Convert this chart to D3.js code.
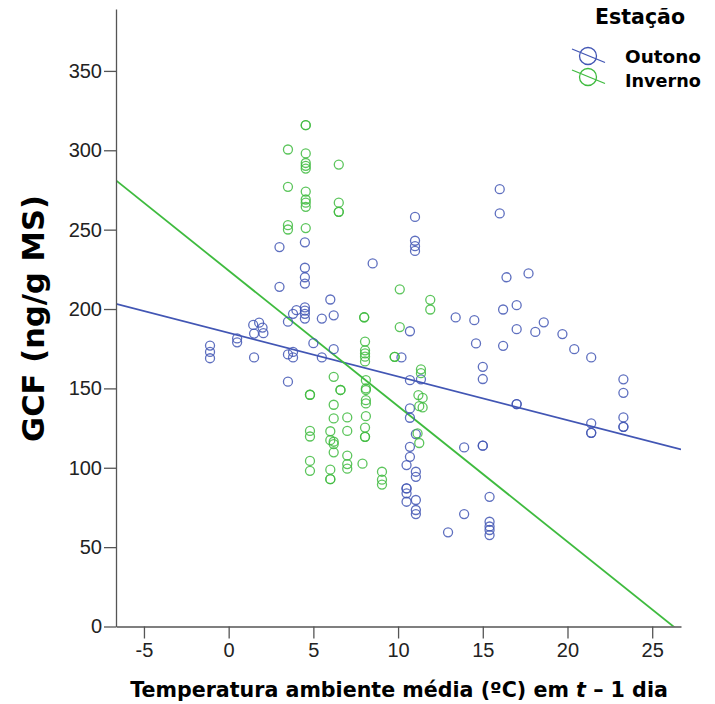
<!DOCTYPE html>
<html>
<head>
<meta charset="utf-8">
<script src="https://cdn.jsdelivr.net/npm/d3@7"></script>
<style>
  body { margin: 0; background: #fff; }
  svg { display: block; }
  .axis path, .axis line { stroke: #555; stroke-width: 1.3; }
  .axis text { font-family: "Liberation Sans", Arial, sans-serif; font-size: 20px; fill: #222; }
  .title { font-family: "DejaVu Sans", sans-serif; font-weight: bold; fill: #000; }
</style>
</head>
<body>
<div id="chart"></div>
<script>
// Estação: Outono (blue), Inverno (green) -- [temperature, GCF]
const seasons = ["Outono", "Inverno"]
const seasonColors = ["#4256b4", "#3fbb3f"]

const outono = [
  [-1.1,177],[-1.1,173],[-1.1,169],[0.5,181.5],[0.5,179],[1.5,169.5],
  [1.45,190],[1.8,191.4],[2.0,188.3],[2.05,184.8],[1.5,184.5],
  [3.0,239],[3.0,214],[3.5,192],[3.8,197],[4.0,199.3],
  [4.5,242],[4.5,226],[4.5,220],[4.5,216],[4.5,201],[4.5,199],[4.5,197],[4.5,194],
  [6.0,206],[6.2,196],[5.5,194],[5.0,178.5],[6.2,174.7],
  [3.5,171.4],[3.8,173],[3.8,169.5],[5.5,169.5],[3.5,154.2],
  [11.0,258],[11.0,243],[11.0,239.6],[11.0,236.6],[8.5,228.7],[13.4,194.7],[10.7,186],
  [16.0,275.5],[16.0,260.2],[16.4,220],[17.7,222.4],[16.2,199.7],[17.0,202.4],[14.5,193],
  [17.0,187.3],[18.1,185.6],[18.6,191.6],[19.7,184.2],
  [14.6,178.3],[16.2,176.8],[20.4,174.7],[21.4,169.5],[15.0,163.6],[15.0,155.9],
  [23.3,155.7],[23.3,147.2],[17.0,140.1],[17.0,140.1],[21.4,128],[21.4,122],[21.4,122],
  [23.3,131.7],[23.3,125.8],[23.3,125.8],
  [13.9,112.8],[15.0,113.9],[15.0,113.9],[15.4,81.7],[13.9,70.8],[15.4,66],[15.4,63],
  [15.4,60.8],[15.4,57.6],
  [10.2,169.5],[10.7,155.2],[11.35,155.7],[10.7,137.4],[10.7,131.5],[11.05,121.2],
  [10.7,113.2],[10.7,106.9],[10.5,101.7],[11.05,97.5],[11.05,94.3],[10.5,87],[10.5,87],
  [10.5,83.9],[10.5,78.6],[11.05,79.7],[11.05,73.4],[11.05,70.8],[12.95,59.3]
]

const inverno = [
  [4.55,315.8],[4.55,315.8],[3.5,300.5],[4.55,298],[4.55,292],[4.55,290.2],[4.55,288.5],[6.5,291],
  [3.5,277],[4.55,274],[4.55,269],[4.55,267],[4.55,264.4],[6.5,267],[6.5,261.2],[6.5,261.2],
  [3.5,252.8],[3.5,250.1],[4.55,251],
  [10.1,212.4],[11.9,205.8],[11.9,199.7],[8.0,194.8],[8.0,194.8],[10.1,188.6],
  [8.05,179.5],[8.05,174],[8.05,172],[8.05,170],[8.05,167],[9.8,169.9],[9.8,169.9],
  [11.35,162],[11.35,159.6],[8.1,155.2],[8.1,150],[8.1,149],[6.6,149],[6.6,149],
  [8.1,142.6],[8.1,140.5],
  [11.2,145.8],[11.45,144],[11.25,138.8],[11.45,138],
  [4.8,146],[4.8,146],[6.2,157.3],[6.2,139.7],[6.2,131.1],
  [7.0,131.7],[8.1,132.5],[7.0,123.2],[8.05,125.3],[8.05,119.5],[8.05,119.5],
  [11.15,121.6],[11.25,115.6],
  [4.8,123.2],[4.8,119.7],[6.0,123],[6.0,117.4],[6.2,116.4],[6.2,114.9],[6.2,109.7],
  [4.8,104.3],[4.8,98.1],[6.0,98.8],[6.0,92.8],[6.0,92.8],
  [7.0,107.7],[7.0,102.3],[7.0,99.4],[7.9,102.6],
  [9.05,97.5],[9.05,92.5],[9.05,89.4]
]

// linear fit per season: [intercept, slope]
const fitOutono = [185.0, -2.75]
const fitInverno = [224.2, -8.54]

const xTicks = [-5, 0, 5, 10, 15, 20, 25]
const yTicks = [0, 50, 100, 150, 200, 250, 300, 350]

const width = 715, height = 704
const svg = d3.select('#chart').append('svg')
  .attr('width', width).attr('height', height)

const x = d3.scaleLinear().domain([-6.65, 26.7]).range([116, 681])
const y = d3.scaleLinear().domain([0, 389]).range([626.5, 9])

// shrink/grow a text's font size so it spans the given width
function fitWidth(sel, target) {
  const size = parseFloat(sel.style('font-size'))
  const w = sel.node().getComputedTextLength()
  sel.style('font-size', (size * target / w) + 'px')
}

// fit lines, clipped to the plot area
svg.append('clipPath').attr('id', 'plot-clip')
  .append('rect').attr('x', 116).attr('y', 9).attr('width', 565).attr('height', 617.5)

const fits = [fitOutono, fitInverno]
fits.forEach((f, i) => {
  const xs = x.domain()
  svg.append('line')
    .attr('clip-path', 'url(#plot-clip)')
    .attr('x1', x(xs[0])).attr('y1', y(f[0] + f[1] * xs[0]))
    .attr('x2', x(xs[1])).attr('y2', y(f[0] + f[1] * xs[1]))
    .attr('stroke', seasonColors[i])
    .attr('stroke-width', 1.8)
})

// points
;[outono, inverno].forEach((pts, i) => {
  svg.append('g').selectAll('circle')
    .data(pts)
    .enter()
      .append('circle')
      .attr('cx', d => x(d[0]))
      .attr('cy', d => y(d[1]))
      .attr('r', 4.5)
      .attr('fill', 'none')
      .attr('stroke', seasonColors[i])
      .attr('stroke-width', 1.3)
      .attr('stroke-opacity', 0.85)
})

// axes
const xAxis = d3.axisBottom(x).tickValues(xTicks).tickSize(12).tickSizeOuter(0).tickPadding(4)
  .tickFormat(d => String(d))
const yAxis = d3.axisLeft(y).tickValues(yTicks).tickSize(12).tickSizeOuter(0).tickPadding(2)
  .tickFormat(d => String(d))

svg.append('g')
  .classed('x axis', true)
  .attr('transform', 'translate(0,' + y(0) + ')')
  .call(xAxis)

svg.append('g')
  .classed('y axis', true)
  .attr('transform', 'translate(' + x.range()[0] + ',0)')
  .call(yAxis)

// axis titles
const xt = svg.append('text')
  .attr('class', 'title')
  .attr('x', 399).attr('y', 697)
  .attr('text-anchor', 'middle')
  .style('font-size', '20px')
xt.append('tspan').text('Temperatura ambiente média (ºC) em ')
xt.append('tspan').style('font-style', 'italic').text('t')
xt.append('tspan').text(' – 1 dia')
fitWidth(xt, 538)

const yt = svg.append('text')
  .attr('class', 'title')
  .attr('transform', 'translate(44,318.5) rotate(-90)')
  .attr('text-anchor', 'middle')
  .style('font-size', '26px')
  .text('GCF (ng/g MS)')
fitWidth(yt, 247)

// legend
const lt = svg.append('text')
  .attr('class', 'title')
  .attr('x', 640).attr('y', 24)
  .attr('text-anchor', 'middle')
  .style('font-size', '20px')
  .text('Estação')
fitWidth(lt, 90)

const legend = svg.selectAll('.legend')
  .data(seasons)
  .enter()
    .append('g')
    .attr('class', 'legend')

legend.append('line')
  .attr('x1', 572).attr('x2', 605)
  .attr('y1', (d, i) => 49 + i * 21)
  .attr('y2', (d, i) => 62.5 + i * 21)
  .attr('stroke', (d, i) => seasonColors[i])
  .attr('stroke-width', 1.3)

legend.append('circle')
  .attr('cx', 588)
  .attr('cy', (d, i) => 56 + i * 21)
  .attr('r', 8.5)
  .attr('fill', 'none')
  .attr('stroke', (d, i) => seasonColors[i])
  .attr('stroke-width', 1.3)

legend.append('text')
  .attr('class', 'title')
  .attr('x', 625)
  .attr('y', (d, i) => 62.5 + i * 24)
  .style('font-size', '19px')
  .text(d => d)
  .each(function() { fitWidth(d3.select(this), 76) })
</script>
</body>
</html>
